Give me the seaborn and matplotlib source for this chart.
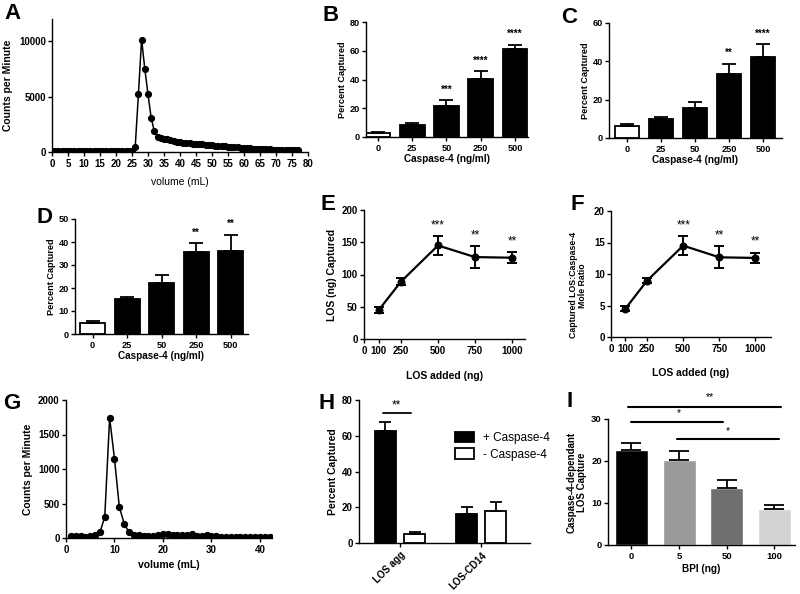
import numpy as np
import pandas as pd
import seaborn as sns
import matplotlib.pyplot as plt

# --- data ---
vol_a = np.arange(0, 78)
cpm_a = [110, 100, 100, 90, 100, 100, 90, 100, 90, 100, 90, 90, 100, 90, 90, 80,
         90, 90, 80, 90, 80, 90, 80, 80, 90, 100, 420, 5200, 10150, 7500, 5200,
         3050, 1850, 1340, 1250, 1200, 1130, 1060, 1000, 930, 870, 840, 820, 800,
         760, 720, 700, 680, 650, 620, 600, 580, 560, 530, 500, 480, 460, 440, 410,
         380, 360, 340, 320, 300, 280, 270, 260, 250, 240, 220, 210, 200, 190, 180,
         170, 160, 150, 140]

vol_g = np.arange(1, 43)
cpm_g = [30, 35, 30, 20, 25, 45, 80, 310, 1740, 1150, 450, 210, 80, 50, 40, 35,
         35, 35, 40, 55, 55, 50, 50, 50, 45, 55, 35, 30, 40, 30, 25, 20, 20, 15,
         20, 15, 10, 20, 10, 10, 15, 10]

conc = ['0', '25', '50', '250', '500']
pct_b = [3.0, 8.2, 21.4, 40.3, 61.5]
err_b = [0.4, 1.4, 4.2, 5.4, 2.6]
star_b = ['', '', '***', '****', '****']

pct_c = [6.1, 10.1, 15.6, 33.6, 42.5]
err_c = [1.1, 1.1, 3.3, 5.0, 6.3]
star_c = ['', '', '', '**', '****']

pct_d = [4.9, 15.1, 22.3, 35.5, 36.2]
err_d = [0.9, 1.0, 3.4, 3.9, 7.0]
star_d = ['', '', '', '**', '**']

los_added = [100, 250, 500, 750, 1000]
los_capt = [45, 89, 145, 127, 126]
los_err = [4.4, 5.5, 14, 17, 8.5]
star_e = ['', '', '***', '**', '**']

ratio = [4.5, 8.95, 14.5, 12.65, 12.55]
ratio_err = [0.4, 0.45, 1.5, 1.75, 0.85]
star_f = ['', '', '***', '**', '**']

h_groups = ['LOS agg', 'LOS agg', 'LOS-CD14', 'LOS-CD14']
h_cond = ['+ Caspase-4', '- Caspase-4', '+ Caspase-4', '- Caspase-4']
h_pct = [62.6, 5.2, 16.1, 18.1]
h_err = [5.3, 0.8, 4.3, 4.7]

bpi = ['0', '5', '50', '100']
bpi_capt = [22.6, 20.2, 13.5, 8.65]
bpi_err = [1.8, 2.3, 2.0, 0.85]
bpi_cols = ['#000000', '#9a9a9a', '#6e6e6e', '#d2d2d2']

# --- style ---
sns.set_style('ticks', rc={'axes.edgecolor': 'black', 'xtick.color': 'black',
                           'ytick.color': 'black', 'text.color': 'black',
                           'axes.labelcolor': 'black'})
plt.rcParams['font.family'] = ['Liberation Sans', 'DejaVu Sans']
plt.rcParams['font.weight'] = 'bold'
plt.rcParams['axes.labelweight'] = 'bold'
plt.rcParams['axes.linewidth'] = 1.0
plt.rcParams['xtick.major.size'] = 3
plt.rcParams['ytick.major.size'] = 3
plt.rcParams['xtick.major.width'] = 1.0
plt.rcParams['ytick.major.width'] = 1.0
plt.rcParams['xtick.major.pad'] = 2
plt.rcParams['ytick.major.pad'] = 1.5

W, H = 800, 594
fig = plt.figure(figsize=(8, 5.94), dpi=100)


def add_ax(l, t, r, b):
    return fig.add_axes([l / W, 1 - b / H, (r - l) / W, (b - t) / H])


def letter(x, y, s):
    fig.text(x / W, 1 - y / H, s, fontsize=16, fontweight='bold', va='top', ha='left')


def bar_panel(ax, vals, errs, stars, ymax, step, xl):
    df = pd.DataFrame({'conc': conc, 'pct': vals})
    pal = {c: ('white' if i == 0 else 'black') for i, c in enumerate(conc)}
    sns.barplot(data=df, x='conc', y='pct', hue='conc', palette=pal, legend=False,
                edgecolor='black', linewidth=1.3, width=0.72, saturation=1, ax=ax)
    ax.errorbar(range(5), vals, yerr=[np.zeros(5), errs], fmt='none', ecolor='black',
                elinewidth=1.3, capsize=5, capthick=1.3)
    for i, s in enumerate(stars):
        if s:
            ax.text(i, vals[i] + errs[i] + ymax * 0.05, s, ha='center', va='bottom', fontsize=7)
    ax.set_ylim(0, ymax)
    ax.set_yticks(np.arange(0, ymax + 1, step))
    ax.set_xlim(*xl)
    ax.set_xlabel('Caspase-4 (ng/ml)', fontsize=7.2, labelpad=1)
    ax.set_ylabel('Percent Captured', fontsize=6.6, labelpad=2)
    ax.tick_params(labelsize=6.6)
    sns.despine(ax=ax)


# A
ax = add_ax(52, 19, 308, 152)
sns.lineplot(x=vol_a, y=cpm_a, color='black', marker='o', markersize=4.4,
             markeredgecolor='black', linewidth=1.1, ax=ax)
ax.set_xlim(0, 80)
ax.set_ylim(0, 12000)
ax.set_xticks(np.arange(0, 81, 5))
ax.set_yticks([0, 5000, 10000])
ax.set_xlabel('volume (mL)', fontsize=7.5, fontweight='normal', labelpad=6)
ax.set_ylabel('Counts per Minute', fontsize=7.5, labelpad=4)
ax.tick_params(labelsize=7)
sns.despine(ax=ax)
letter(4, 3, 'A')

# B
ax = add_ax(366, 22, 528, 137)
bar_panel(ax, pct_b, err_b, star_b, 80, 20, (-0.35, 4.38))
letter(322, 5, 'B')

# C
ax = add_ax(609, 23, 782, 138)
bar_panel(ax, pct_c, err_c, star_c, 60, 20, (-0.53, 4.56))
letter(561, 7, 'C')

# D
ax = add_ax(75, 219, 248, 334)
bar_panel(ax, pct_d, err_d, star_d, 50, 10, (-0.51, 4.5))
letter(36, 207, 'D')


def line_panel(ax, y, err, stars, ymax, step, xmax, ylabel, ysize):
    sns.lineplot(x=los_added, y=y, color='black', marker='o', markersize=5,
                 markeredgecolor='black', linewidth=1.6, ax=ax)
    ax.errorbar(los_added, y, yerr=err, fmt='none', ecolor='black', elinewidth=1.4,
                capsize=3.5, capthick=1.4)
    for xv, yv, e, s in zip(los_added, y, err, stars):
        if s:
            ax.text(xv, yv + e + ymax * 0.04, s, ha='center', va='bottom',
                    fontsize=8.5, fontweight='normal')
    ax.set_xlim(0, xmax)
    ax.set_ylim(0, ymax)
    ax.set_xticks([0, 100, 250, 500, 750, 1000])
    ax.set_yticks(np.arange(0, ymax + 1, step))
    ax.set_xlabel('LOS added (ng)', fontsize=7.5)
    ax.xaxis.set_label_coords(0.5, -0.25)
    ax.set_ylabel(ylabel, fontsize=ysize, labelpad=3)
    ax.tick_params(labelsize=7)
    sns.despine(ax=ax)


# E
ax = add_ax(364, 210, 525, 339)
line_panel(ax, los_capt, los_err, star_e, 200, 50, 1088, 'LOS (ng) Captured', 7.5)
letter(321, 194, 'E')

# F
ax = add_ax(611, 211, 771, 337)
line_panel(ax, ratio, ratio_err, star_f, 20, 5, 1108, 'Captured LOS:Caspase-4\nMole Ratio', 6.3)
ax.yaxis.label.set_linespacing(1.05)
ax.yaxis.set_label_coords(-0.15, 0.41)
letter(570, 194, 'F')

# G
ax = add_ax(66, 400, 272, 538)
sns.lineplot(x=vol_g, y=cpm_g, color='black', marker='o', markersize=4.5,
             markeredgecolor='black', linewidth=1.1, ax=ax)
ax.set_xlim(0, 42.5)
ax.set_ylim(0, 2000)
ax.set_xticks([0, 10, 20, 30, 40])
ax.set_yticks(np.arange(0, 2001, 500))
ax.set_xlabel('volume (mL)', fontsize=7.5, labelpad=4)
ax.set_ylabel('Counts per Minute', fontsize=7.5, labelpad=4)
ax.tick_params(labelsize=7)
sns.despine(ax=ax)
letter(3, 393, 'G')

# H
ax = add_ax(359, 400, 530, 543)
dfh = pd.DataFrame({'grp': h_groups, 'cond': h_cond, 'pct': h_pct})
sns.barplot(data=dfh, x='grp', y='pct', hue='cond',
            palette={'+ Caspase-4': 'black', '- Caspase-4': 'white'},
            edgecolor='black', linewidth=1.3, width=0.72, gap=0.28, saturation=1, ax=ax)
hx = [-0.18, 0.18, 0.82, 1.18]
ax.errorbar(hx, h_pct, yerr=[np.zeros(4), h_err], fmt='none', ecolor='black',
            elinewidth=1.3, capsize=4.5, capthick=1.3)
ax.plot([-0.21, 0.14], [72.8, 72.8], color='black', lw=1.3, clip_on=False)
ax.text(-0.04, 73.5, '**', ha='center', va='bottom', fontsize=8.5, fontweight='normal')
ax.set_xlim(-0.506, 1.6)
ax.set_ylim(0, 80)
ax.set_yticks(np.arange(0, 81, 20))
ax.set_xlabel('')
ax.set_ylabel('Percent Captured', fontsize=7.5, labelpad=3)
ax.tick_params(labelsize=7)
plt.setp(ax.get_xticklabels(), rotation=45, ha='right', rotation_mode='anchor')
ax.legend(loc='upper left', bbox_to_anchor=(444 / W, 1 - 421 / H), bbox_transform=fig.transFigure,
          frameon=False, prop={'weight': 'normal', 'size': 8.5},
          handlelength=1.6, handleheight=0.95, handletextpad=0.8, labelspacing=0.4)
sns.despine(ax=ax)
letter(319, 393, 'H')

# I
ax = add_ax(608, 419, 795, 545)
dfi = pd.DataFrame({'bpi': bpi, 'capt': bpi_capt})
sns.barplot(data=dfi, x='bpi', y='capt', hue='bpi', palette=dict(zip(bpi, bpi_cols)),
            legend=False, width=0.69, saturation=1, ax=ax)
ax.errorbar(range(4), bpi_capt, yerr=[np.zeros(4), bpi_err], fmt='none', ecolor='black',
            elinewidth=1.3, capsize=7, capthick=1.3)
for x0, x1, yv, s, xs, ys in [(-0.07, 3.13, 32.9, '**', 1.65, 34.0),
                               (-0.01, 1.92, 29.3, '*', 1.0, 30.2),
                               (0.95, 3.09, 25.2, '*', 2.02, 26.0)]:
    ax.plot([x0, x1], [yv, yv], color='black', lw=1.5, clip_on=False)
    ax.text(xs, ys, s, ha='center', va='bottom', fontsize=7.5, fontweight='normal')
ax.set_xlim(-0.49, 3.43)
ax.set_ylim(0, 30)
ax.set_yticks([0, 10, 20, 30])
ax.set_xlabel('BPI (ng)', fontsize=7.2, labelpad=2)
ax.set_ylabel('Caspase-4-dependant\nLOS Capture', fontsize=7, labelpad=3, linespacing=1.0)
ax.tick_params(labelsize=6.8)
sns.despine(ax=ax)
letter(566, 391, 'I')

fig.savefig('out.png', dpi=100)
